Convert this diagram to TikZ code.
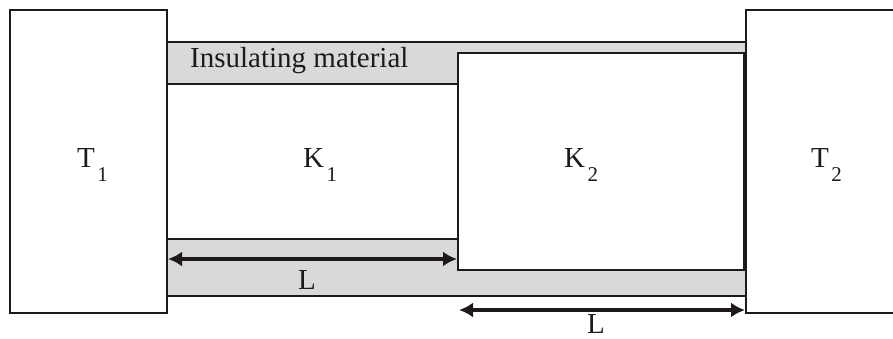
\documentclass[tikz,border=0pt]{standalone}
\usepackage{fontspec}
\setmainfont{Liberation Serif}
\usetikzlibrary{positioning,arrows.meta}
\definecolor{insul}{RGB}{217,217,217}
\definecolor{ink}{RGB}{30,26,26}
\newcommand{\sublbl}[2]{#1\hspace{2.5pt}\raisebox{-14pt}{\fontsize{21}{21}\selectfont #2}}

\begin{document}
\begin{tikzpicture}[x=1pt,y=1pt,>={Latex[length=14pt,width=15pt]},
    wall/.style={draw=ink,line width=1.7pt},
    dimarrow/.style={<->,draw=ink,line width=3.6pt,shorten <=1pt,shorten >=1pt},
    lbl/.style={font=\fontsize{29}{31}\selectfont,text=ink,inner sep=0pt,anchor=base west}]
  \useasboundingbox (0,0) rectangle (893,338);
  % insulating strips
  \fill[insul] (167,296) -- (746,296) -- (746,285) -- (458,285) -- (458,254) -- (167,254) -- cycle;
  \fill[insul] (167,99) -- (458,99) -- (458,68) -- (746,68) -- (746,42) -- (167,42) -- cycle;
  \draw[wall] (167,296) -- (746,296);
  \draw[wall] (167,254) -- (458,254);
  \draw[wall] (167,99) -- (458,99);
  \draw[wall] (167,42) -- (746,42);
  % reservoirs
  \draw[wall] (10,25) rectangle (167,328);
  \draw[wall] (893,328) -- (746,328) -- (746,25) -- (893,25);
  % second conductor
  \draw[wall] (744,285) -- (458,285) -- (458,68) -- (744,68);
  \draw[draw=ink,line width=3pt] (744,286) -- (744,67);
  % labels
  \node[lbl] (t1) at (77,171) {\sublbl{T}{1}};
  \node[lbl] (k1) at (303,171) {\sublbl{K}{1}};
  \node[lbl] (k2) at (564,171) {\sublbl{K}{2}};
  \node[lbl] (t2) at (811,171) {\sublbl{T}{2}};
  \node[lbl] (ins) at (190,270) {Insulating material};
  % lengths
  \coordinate (a1) at (167,79);
  \coordinate (b1) at (458,79);
  \coordinate (a2) at (458,28);
  \coordinate (b2) at (746,28);
  \draw[dimarrow] (a1) -- (b1);
  \draw[dimarrow] (a2) -- (b2);
  \node[lbl] (len1) at (298,49) {L};
  \node[lbl] (len2) at (587,5) {L};
\end{tikzpicture}
\end{document}
